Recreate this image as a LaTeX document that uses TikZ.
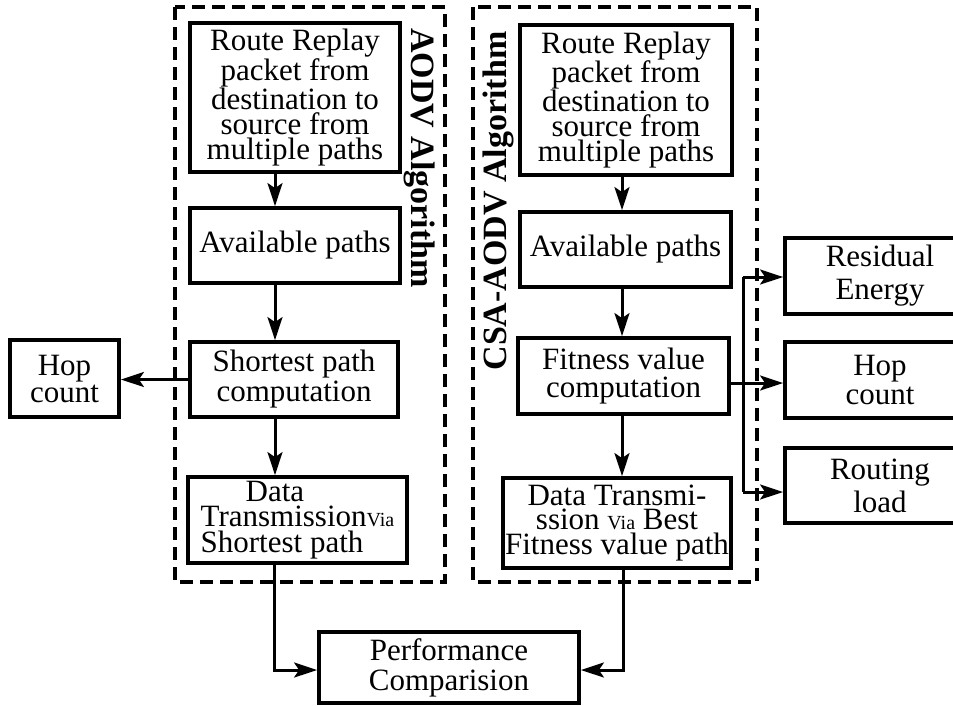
\documentclass[tikz,border=0pt]{standalone}
\usepackage{fontspec}
\setmainfont{Liberation Serif}
\usetikzlibrary{arrows.meta}

\tikzset{
  box/.style={draw, line width=3.8pt, inner sep=0pt, align=center,
    font=\fontsize{31}{26}\selectfont},
  grp/.style={draw, line width=3.4pt, dash pattern=on 13pt off 7pt},
  conn/.style={line width=3pt, -{Stealth[length=23pt, width=15pt, inset=5pt]}},
  wire/.style={line width=3pt},
  title/.style={font=\fontsize{34}{34}\selectfont\bfseries, inner sep=0pt},
}
\newcommand{\viatext}{{\fontsize{20}{20}\selectfont Via}}

\begin{document}
\begin{tikzpicture}[x=1pt, y=-1pt]
\useasboundingbox (0,0) rectangle (953,705);
\clip (0,0) rectangle (953,705);

% group frames
\draw[grp] (175,7) rectangle (445,582);
\draw[grp] (473,7) rectangle (757,582);
\node[title, rotate=-90] (tl) at (420,158) {AODV Algorithm};
\node[title, rotate=90] (tr) at (498,201) {CSA-AODV Algorithm};

% AODV column
\node[box, minimum width=210pt, minimum height=149pt, font=\fontsize{31}{24.8}\selectfont]
  (lroute) at (295,97.5) {Route Replay\\packet from\\destination to\\source from\\multiple paths};
\node[box, minimum width=210pt, minimum height=75pt] (lavail) at (295,245.5) {Available paths};
\node[box, minimum width=208pt, minimum height=75pt, font=\fontsize{31}{30}\selectfont]
  (lshort) at (294,379.5) {Shortest path\\computation};
\node[box, minimum width=219pt, minimum height=86pt, align=left, font=\fontsize{31}{25.5}\selectfont]
  (ldata) at (297.5,520) {\hspace*{45pt}Data\\Transmission\viatext\\Shortest path};
\node[box, minimum width=109pt, minimum height=77pt, font=\fontsize{31}{27}\selectfont]
  (lhop) at (64.5,378.5) {Hop\\count};

% CSA-AODV column
\node[box, minimum width=212pt, minimum height=150pt, font=\fontsize{31}{24.8}\selectfont]
  (rroute) at (626,100) {Route Replay\\packet from\\destination to\\source from\\multiple paths};
\node[box, minimum width=211pt, minimum height=75pt] (ravail) at (625.5,249.5) {Available paths};
\node[box, minimum width=211pt, minimum height=76pt, font=\fontsize{31}{28}\selectfont]
  (rfit) at (623.5,376) {Fitness value\\computation};
\node[box, minimum width=228pt, minimum height=90pt, font=\fontsize{31}{24.5}\selectfont]
  (rdata) at (617,523) {Data Transmi-\\ssion \viatext\ Best\\Fitness value path};

% metrics
\node[box, minimum width=190pt, minimum height=76pt, font=\fontsize{31}{33}\selectfont]
  (res) at (880,276) {Residual\\Energy};
\node[box, minimum width=190pt, minimum height=76pt, font=\fontsize{31}{29}\selectfont]
  (rhop) at (880,380) {Hop\\count};
\node[box, minimum width=190pt, minimum height=75pt, font=\fontsize{31}{33}\selectfont]
  (rload) at (880,485.5) {Routing\\load};

% comparison
\node[box, minimum width=260pt, minimum height=71pt, font=\fontsize{31}{30}\selectfont]
  (perf) at (449,667.5) {Performance\\Comparision};

% routing positions
\coordinate (lx) at (275,0);
\coordinate (rx) at (622,0);
\coordinate (bus) at (743,0);
\coordinate (ytop) at (0,277);
\coordinate (ymid) at (0,383);
\coordinate (ybot) at (0,492);
\coordinate (ylow) at (0,670);
\coordinate (lbx) at (274,0);
\coordinate (rbx) at (623,0);

% AODV flow
\draw[conn] (lroute.south -| lx) -- (lavail.north -| lx);
\draw[conn] (lavail.south -| lx) -- (lshort.north -| lx);
\draw[conn] (lshort.south -| lx) -- (ldata.north -| lx);
\draw[conn] (lshort.west) -- (lhop.east |- lshort.west);

% CSA-AODV flow
\draw[conn] (rroute.south -| rx) -- (ravail.north -| rx);
\draw[conn] (ravail.south -| rx) -- (rfit.north -| rx);
\draw[conn] (rfit.south -| rx) -- (rdata.north -| rx);

% fitness inputs
\draw[conn] (rfit.east |- ymid) -- (rhop.west |- ymid);
\draw[wire] (bus |- ytop) -- (bus |- ybot);
\draw[conn] (bus |- ytop) -- (res.west |- ytop);
\draw[conn] (bus |- ybot) -- (rload.west |- ybot);

% to comparison
\draw[conn] (ldata.south -| lbx) -- (lbx |- ylow) -- (perf.west |- ylow);
\draw[conn] (rdata.south -| rbx) -- (rbx |- ylow) -- (perf.east |- ylow);
\end{tikzpicture}
\end{document}
